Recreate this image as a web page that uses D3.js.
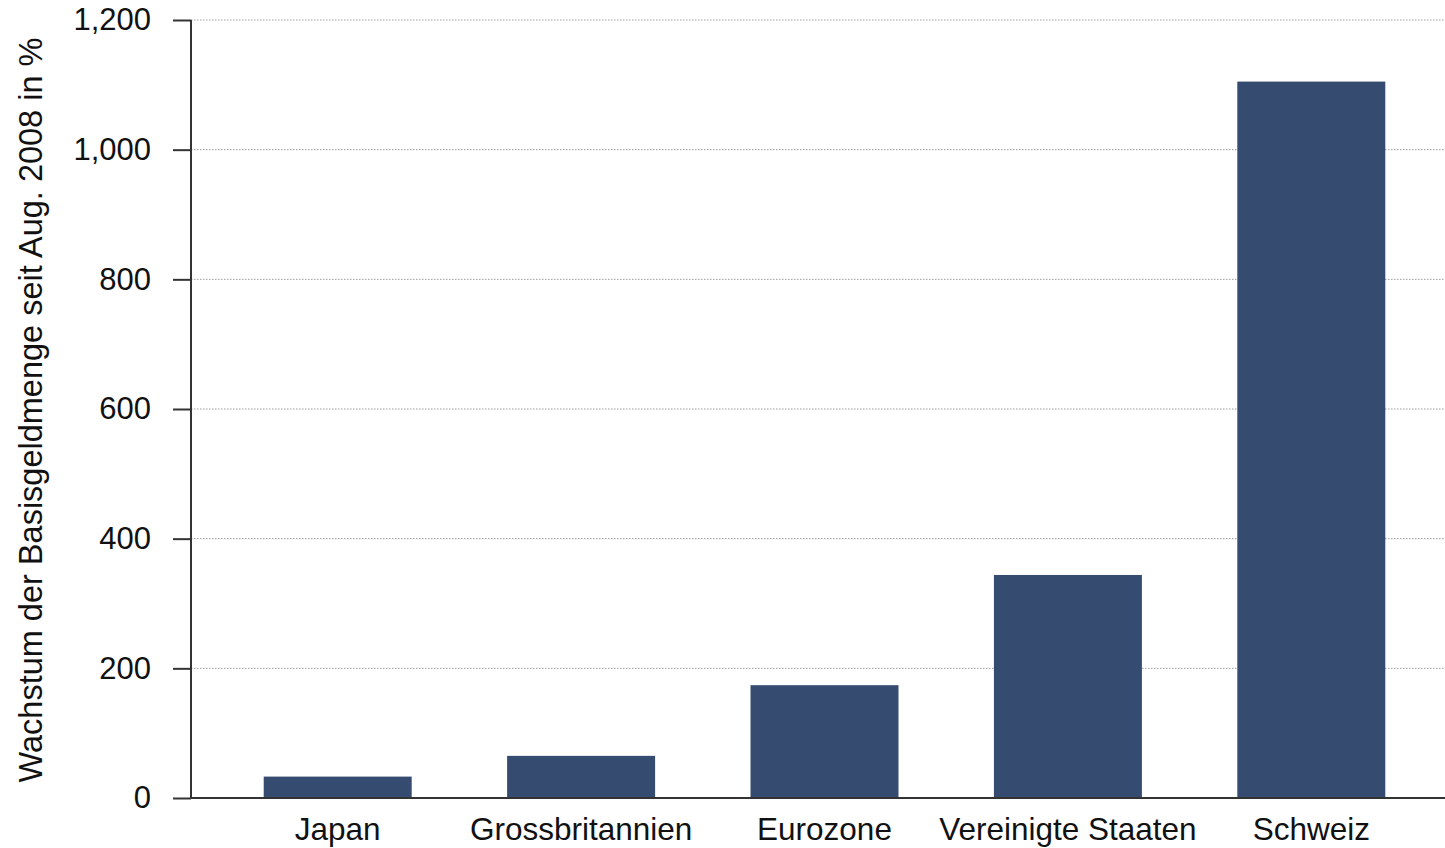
<!DOCTYPE html>
<html>
<head>
<meta charset="utf-8">
<script src="https://cdn.jsdelivr.net/npm/d3@7"></script>
<style>
  html, body { margin: 0; padding: 0; background: #fff; }
  svg { display: block; font-family: "Liberation Sans", Arial, Helvetica, sans-serif; }
</style>
</head>
<body>
<svg id="chart" width="1445" height="848"></svg>
<script>
// Growth of the monetary base since Aug. 2008, in percent
const categories = ["Japan", "Grossbritannien", "Eurozone", "Vereinigte Staaten", "Schweiz"];
const values = [33, 65, 174, 344, 1105];
const yTicks = [0, 200, 400, 600, 800, 1000, 1200];
const yTitle = "Wachstum der Basisgeldmenge seit Aug. 2008 in %";

const svg = d3.select("#chart");
const axisX = 191, plotRight = 1445;
const yTop = 20, yBottom = 798;

const y = d3.scaleLinear().domain([0, 1200]).range([yBottom, yTop]);
const x = d3.scaleBand()
  .domain(categories)
  .range([216, 1433])
  .paddingInner(0.392)
  .paddingOuter(0.196);

// dotted grid lines
svg.append("g")
  .selectAll("line")
  .data(yTicks.filter(d => d > 0))
  .join("line")
  .attr("x1", axisX).attr("x2", plotRight)
  .attr("y1", d => y(d)).attr("y2", d => y(d))
  .attr("stroke", "#9a9a9a")
  .attr("stroke-width", 1)
  .attr("stroke-dasharray", "1.5,1.5");

// bars
svg.append("g")
  .selectAll("rect")
  .data(categories)
  .join("rect")
  .attr("x", d => x(d))
  .attr("width", x.bandwidth())
  .attr("y", (d, i) => y(values[i]))
  .attr("height", (d, i) => y(0) - y(values[i]))
  .attr("fill", "#354b6f");

// y axis
const yAxis = d3.axisLeft(y)
  .tickValues(yTicks)
  .tickSize(18)
  .tickPadding(22)
  .tickFormat(d3.format(","));
const gy = svg.append("g")
  .attr("transform", `translate(${axisX},0)`)
  .call(yAxis);
gy.select(".domain").attr("stroke", "#333").attr("stroke-width", 2)
  .attr("d", `M0,${yTop}V${yBottom}`);
gy.selectAll(".tick line").attr("stroke", "#333").attr("stroke-width", 2);
gy.selectAll(".tick text")
  .attr("fill", "#111")
  .style("font-size", "31px")
  .style("font-family", "'Liberation Sans', Arial, sans-serif");

// baseline
svg.append("line")
  .attr("x1", axisX).attr("x2", plotRight)
  .attr("y1", y(0)).attr("y2", y(0))
  .attr("stroke", "#333").attr("stroke-width", 2);

// category labels
svg.append("g")
  .selectAll("text")
  .data(categories)
  .join("text")
  .attr("x", d => x(d) + x.bandwidth() / 2)
  .attr("y", 840)
  .attr("text-anchor", "middle")
  .attr("fill", "#111")
  .style("font-size", "31.5px")
  .text(d => d);

// y axis title
svg.append("text")
  .attr("transform", `translate(42,410) rotate(-90)`)
  .attr("text-anchor", "middle")
  .attr("fill", "#111")
  .style("font-size", "32.5px")
  .text(yTitle);
</script>
</body>
</html>
